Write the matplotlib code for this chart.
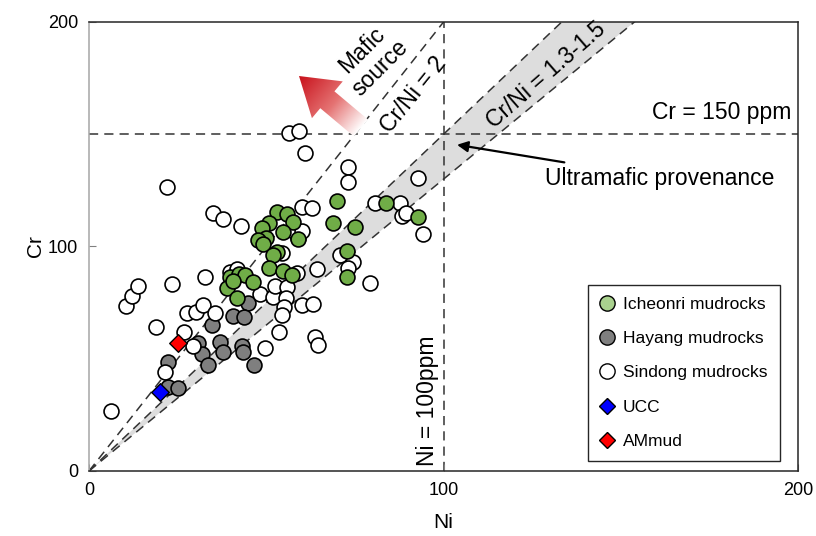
import numpy as np
import matplotlib

matplotlib.use("Agg")
import matplotlib.pyplot as plt
from matplotlib.colors import LinearSegmentedColormap
from matplotlib.lines import Line2D
from matplotlib.patches import Polygon

plt.rcParams["font.family"] = ["Liberation Sans", "DejaVu Sans"]

# Ni, Cr (ppm)
sindong_ni = [6.2, 10.4, 12.1, 13.8, 18.8, 22.0, 23.3, 21.4, 26.8, 29.2, 27.6, 30.2,
              32.1, 35.6, 32.7, 35.0, 37.9, 42.9, 39.8, 41.6, 48.2, 51.9, 52.5, 55.9,
              55.6, 54.9, 54.4, 60.1, 63.2, 53.5, 49.6, 63.8, 64.6, 64.3, 58.7, 59.0,
              58.2, 54.4, 60.0, 62.9, 56.4, 59.2, 60.9, 60.0, 73.0, 73.0, 80.7, 87.8,
              88.4, 89.5, 92.8, 94.2, 70.8, 74.6, 73.0, 79.2]
sindong_cr = [26.7, 73.5, 78.0, 82.4, 64.1, 126.3, 83.2, 44.0, 62.0, 55.8, 70.5, 70.8,
              73.9, 70.4, 86.4, 115.0, 112.4, 109.1, 88.6, 89.8, 78.9, 77.5, 82.3, 82.0,
              77.0, 73.0, 69.5, 73.9, 74.5, 62.0, 54.8, 59.7, 56.1, 89.8, 88.2, 103.8,
              106.5, 97.0, 117.6, 117.2, 150.7, 151.4, 141.6, 107.0, 135.2, 128.5, 119.4, 119.4,
              113.6, 115.0, 130.5, 105.5, 96.0, 93.1, 90.2, 83.7]

hayang_ni = [44.9, 40.6, 43.6, 34.8, 30.6, 37.0, 37.8, 43.2, 43.5, 31.9, 33.5, 22.3,
             46.4, 22.3, 25.1]
hayang_cr = [74.8, 69.2, 68.4, 65.0, 56.8, 57.4, 53.0, 55.8, 53.0, 52.0, 47.2, 48.6,
             47.4, 37.4, 37.0]

icheonri_ni = [53.0, 55.9, 57.6, 50.8, 48.8, 54.8, 58.9, 50.0, 47.8, 49.0, 53.0, 52.0,
               50.9, 54.8, 57.3, 39.8, 42.2, 44.0, 46.2, 38.9, 41.8, 40.5, 70.0, 68.9,
               75.0, 83.8, 92.8, 72.9, 72.9]
icheonri_cr = [115.4, 114.5, 110.7, 110.5, 108.2, 106.5, 103.3, 103.8, 102.7, 100.9, 97.4, 96.0,
               90.4, 89.3, 87.3, 86.4, 87.8, 87.3, 84.3, 81.5, 77.2, 84.5, 120.2, 110.5,
               108.5, 119.4, 113.3, 98.2, 86.2]

ucc = (20, 35)
ammud = (25, 57)

ratio_lines = [2.0, 1.3, 1.5]
ticks = [0, 100, 200]

fig = plt.figure(figsize=(8.16, 5.36), dpi=100)
ax = fig.add_axes([0.1091, 0.1213, 0.8689, 0.8377])
ax.set_xlim(0, 200)
ax.set_ylim(0, 200)

dash = (0, (6, 4))
line_col = "#333333"
ni_line = np.array([0, 200])
ax.fill_between(ni_line, 1.3 * ni_line, 1.5 * ni_line, color="#DDDDDD", lw=0, zorder=0)
for r in ratio_lines:
    ax.plot(ni_line, r * ni_line, ls=dash, color=line_col, lw=1.1, zorder=1)
ax.axhline(150, ls=dash, color=line_col, lw=1.1, zorder=1)
ax.axvline(100, ls=dash, color=line_col, lw=1.1, zorder=1)

# gradient "Mafic source" arrow, shape built in pixel space
H = 536
tip = np.array([299.0, 76.0])
tail = np.array([361.0, 128.0])
u = (tip - tail) / np.linalg.norm(tip - tail)
n = np.array([-u[1], u[0]])
L = np.linalg.norm(tip - tail)
hl, hw, sw = 37, 24, 11
base = tail + u * (L - hl)
pts_px = np.array([tail + n * sw, base + n * sw, base + n * hw, tip,
                   base - n * hw, base - n * sw, tail - n * sw])
pts_disp = np.column_stack([pts_px[:, 0], H - pts_px[:, 1]])
inv = ax.transData.inverted()
pts_data = inv.transform(pts_disp)
poly = Polygon(pts_data, closed=True, facecolor="none", edgecolor="none")
ax.add_patch(poly)

x0, y0 = pts_disp.min(axis=0) - 2
x1, y1 = pts_disp.max(axis=0) + 2
gx, gy = np.meshgrid(np.linspace(x0, x1, 200), np.linspace(y0, y1, 200))
tail_d = np.array([tail[0], H - tail[1]])
u_d = np.array([u[0], -u[1]])
t = ((gx - tail_d[0]) * u_d[0] + (gy - tail_d[1]) * u_d[1]) / L
cmap = LinearSegmentedColormap.from_list(
    "mafic", [(0, "#FFFFFF"), (0.45, "#E57373"), (1, "#C8101A")])
(dx0, dy0), (dx1, dy1) = inv.transform([[x0, y0], [x1, y1]])
im = ax.imshow(np.clip(t, 0, 1), extent=[dx0, dx1, dy0, dy1], origin="lower",
               cmap=cmap, vmin=0, vmax=1, aspect="auto", zorder=2)
im.set_clip_path(poly)
ax.set_xlim(0, 200)
ax.set_ylim(0, 200)

ms = 115
ax.scatter(hayang_ni, hayang_cr, s=ms, c="#7F7F7F", edgecolors="black", linewidths=1.2, zorder=3)
ax.scatter(sindong_ni, sindong_cr, s=ms, c="white", edgecolors="black", linewidths=1.2, zorder=4)
ax.scatter(icheonri_ni, icheonri_cr, s=ms, c="#70AD47", edgecolors="black", linewidths=1.2, zorder=5)
ax.scatter(*ucc, s=80, marker="D", c="#0000FF", edgecolors="black", linewidths=1.0, zorder=6)
ax.scatter(*ammud, s=80, marker="D", c="#FF0000", edgecolors="black", linewidths=1.0, zorder=6)

fs = 16.5
ax.text(79.5, 183.5, "Mafic\nsource", rotation=45, fontsize=fs, ha="center", va="center",
        linespacing=1.2, rotation_mode="anchor")
ax.text(91.5, 167.5, "Cr/Ni = 2", rotation=51, fontsize=fs, ha="center", va="center",
        rotation_mode="anchor")
ax.text(129.0, 176.4, "Cr/Ni = 1.3-1.5", rotation=41, fontsize=fs, ha="center", va="center",
        rotation_mode="anchor")
ax.text(198.0, 159.5, "Cr = 150 ppm", fontsize=fs, ha="right", va="center")
ax.text(95.6, 31.5, "Ni = 100ppm", rotation=90, fontsize=fs, ha="center", va="center")
ax.annotate("Ultramafic provenance", xy=(103.8, 145.3), xytext=(128.6, 130.5),
            fontsize=fs, ha="left", va="center",
            arrowprops=dict(arrowstyle="-|>", color="black", lw=1.6,
                            mutation_scale=16, shrinkA=6, shrinkB=0))

ax.set_xticks(ticks)
ax.set_yticks(ticks)
ax.tick_params(direction="in", length=5, labelsize=13, color="#808080", pad=8)
ax.set_xlabel("Ni", fontsize=15, labelpad=10)
ax.set_ylabel("Cr", fontsize=15, labelpad=2)
for side in ["top", "right", "bottom"]:
    ax.spines[side].set_color("#262626")
    ax.spines[side].set_linewidth(1.1)
ax.spines["left"].set_color("#A6A6A6")
ax.spines["left"].set_linewidth(1.1)

handles = [
    Line2D([], [], ls="none", marker="o", ms=11, mfc="#A9D18E", mec="black", mew=1.0),
    Line2D([], [], ls="none", marker="o", ms=11, mfc="#7F7F7F", mec="black", mew=1.0),
    Line2D([], [], ls="none", marker="o", ms=11, mfc="white", mec="black", mew=1.0),
    Line2D([], [], ls="none", marker="D", ms=8, mfc="#0000FF", mec="black", mew=1.0),
    Line2D([], [], ls="none", marker="D", ms=8, mfc="#FF0000", mec="black", mew=1.0),
]
labels = ["Icheonri mudrocks", "Hayang mudrocks", "Sindong mudrocks", "UCC", "AMmud"]
leg = ax.legend(handles, labels, loc="lower right", bbox_to_anchor=(0.974, 0.022),
                borderaxespad=0, fontsize=12.5, labelspacing=1.1, handletextpad=0.5,
                handlelength=0.8, borderpad=0.7, fancybox=False, framealpha=1,
                edgecolor="#262626")
leg.get_frame().set_linewidth(1.0)
leg.set_zorder(10)

fig.savefig("out.png", dpi=100)
